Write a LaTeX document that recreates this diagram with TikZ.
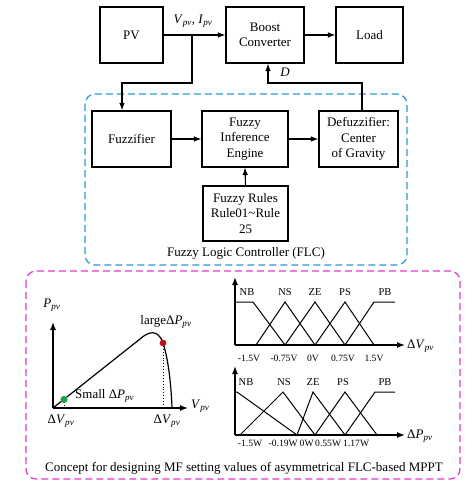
\documentclass[tikz,border=0pt]{standalone}
\usepackage{fontspec}
\setmainfont{Liberation Serif}
\usetikzlibrary{arrows.meta}
\definecolor{flcblue}{RGB}{40,155,210}
\definecolor{mfmag}{RGB}{222,60,205}
\definecolor{dotgreen}{RGB}{30,160,70}
\definecolor{dotred}{RGB}{185,20,35}
\begin{document}
\begin{tikzpicture}[x=1pt,y=-1pt,
  blk/.style={draw,line width=1.1pt,rectangle,align=center,inner sep=1pt,font=\fontsize{13}{15.5}\selectfont},
  arr/.style={line width=1.1pt,-{Latex[length=7.5pt,width=5.5pt]}},
  axis/.style={line width=1.4pt,-{Latex[length=8pt,width=6pt]}},
  mf/.style={line width=1pt},
  lbl/.style={inner sep=0pt,font=\fontsize{13}{15}\selectfont},
  small/.style={inner sep=0pt,font=\fontsize{10.5}{12}\selectfont},
  tick/.style={inner sep=0pt,font=\fontsize{9.6}{11}\selectfont},
  dashbox/.style={line width=1.2pt,dash pattern=on 7pt off 4pt,rounded corners=10pt}]
\useasboundingbox (0,0) rectangle (474,489);
% top row
\node[blk,minimum width=63pt,minimum height=56pt] (pv) at (131.5,35) {PV};
\node[blk,minimum width=78pt,minimum height=56pt] (boost) at (265,35) {Boost\\Converter};
\node[blk,minimum width=67pt,minimum height=56pt] (load) at (369.5,35) {Load};
% FLC
\draw[dashbox,flcblue] (85,94) rectangle (407,265);
\node[blk,minimum width=79pt,minimum height=56pt] (fz) at (131.5,139) {Fuzzifier};
\node[blk,minimum width=86pt,minimum height=56pt] (fie) at (245,139) {Fuzzy\\Inference\\Engine};
\node[blk,minimum width=79pt,minimum height=56pt] (dfz) at (358.5,139) {Defuzzifier:\\Center\\of Gravity};
\node[blk,minimum width=85pt,minimum height=55pt] (rules) at (245.5,213.5) {Fuzzy Rules\\Rule01\textasciitilde Rule\\25};
\node[lbl] (flc) at (246,253) {Fuzzy Logic Controller (FLC)};
% connectors
\coordinate (br) at (192,35);
\coordinate (fzin) at (122,83);
\coordinate (dtop) at (362,83);
\coordinate (bin) at (268,83);
\draw[arr] (pv.east) -- (boost.west);
\draw[arr] (boost.east) -- (load.west);
\draw[arr] (br) |- (fzin) -- (fzin |- fz.north);
\draw[arr] (dtop |- dfz.north) -- (dtop) -- (bin) -- (bin |- boost.south);
\draw[arr] (fz.east) -- (fie.west);
\draw[arr] (fie.east) -- (dfz.west);
\draw[arr] (rules.north) -- (fie.south);
\node[lbl] (vi) at (193,21) {\textit{V}\textsubscript{\textit{pv}}, \textit{I}\textsubscript{\textit{pv}}};
\node[lbl] (d) at (285,72) {\textit{D}};
% MF box
\draw[dashbox,mfmag] (26,271) rectangle (460,479);
\node[lbl] (cap) at (244,468) {Concept for designing MF setting values of asymmetrical FLC-based MPPT};
% P-V curve
\coordinate (o) at (53,408);
\coordinate (yt) at (53,322);
\coordinate (xt) at (188,408);
\draw[axis] (o) -- (yt);
\draw[axis] (o) -- (xt);
\draw[line width=1.2pt] (o) -- (140,339) .. controls (149,331) and (158,329) .. (163,343) .. controls (168,358) and (171,382) .. (172,408);
\coordinate (gd) at (64,399.5);
\coordinate (rd) at (163,343);
\draw[dotted,line width=0.9pt] (gd) -- (gd |- o);
\draw[dotted,line width=0.9pt] (rd) -- (rd |- o);
\fill[dotgreen] (gd) circle (3.6pt);
\fill[dotred] (rd) circle (3.4pt);
\node[lbl] (ppv) at (52,305) {\textit{P}\textsubscript{\textit{pv}}};
\node[lbl,anchor=west] (vpv) at (191,406) {\textit{V}\textsubscript{\textit{pv}}};
\node[lbl] (dv1) at (61,421) {Δ\textit{V}\textsubscript{\textit{pv}}};
\node[lbl] (dv2) at (167,421) {Δ\textit{V}\textsubscript{\textit{pv}}};
\node[lbl,anchor=west] (sm) at (75,396) {Small Δ\textit{P}\textsubscript{\textit{pv}}};
\node[lbl] (lg) at (166,322) {largeΔ\textit{P}\textsubscript{\textit{pv}}};
% top MF chart
\coordinate (o1) at (235,345);
\draw[axis] (o1) -- (235,277);
\draw[axis] (o1) -- (405,345);
\draw[mf] (235,302) -- (253,302) -- (285,345);
\draw[mf] (256,345) -- (285,302) -- (315,345);
\draw[mf] (285,345) -- (315,302) -- (345,345);
\draw[mf] (315,345) -- (345,302) -- (374,345);
\draw[mf] (345,345) -- (374,302) -- (395,302);
\node[small] (nb1) at (247,292) {NB};
\node[small] (ns1) at (285,292) {NS};
\node[small] (ze1) at (315,292) {ZE};
\node[small] (ps1) at (345,292) {PS};
\node[small] (pb1) at (385,292) {PB};
\node[tick] (t11) at (249,358) {-1.5V};
\node[tick] (t12) at (284,358) {-0.75V};
\node[tick] (t13) at (313,358) {0V};
\node[tick] (t14) at (343,358) {0.75V};
\node[tick] (t15) at (374,358) {1.5V};
\node[lbl,anchor=west] (dvx) at (407,346) {Δ\textit{V}\textsubscript{\textit{pv}}};
% bottom MF chart
\coordinate (o2) at (235,435);
\draw[axis] (o2) -- (235,366);
\draw[axis] (o2) -- (405,435);
\draw[mf] (235,392) -- (237,392) -- (297,435);
\draw[mf] (240,435) -- (283,392) -- (315,435);
\draw[mf] (297,435) -- (313,392) -- (345,435);
\draw[mf] (315,435) -- (345,392) -- (377,435);
\draw[mf] (345,435) -- (375,392) -- (395,392);
\node[small] (nb2) at (246,382) {NB};
\node[small] (ns2) at (284,382) {NS};
\node[small] (ze2) at (313,382) {ZE};
\node[small] (ps2) at (343,382) {PS};
\node[small] (pb2) at (385,382) {PB};
\node[tick,anchor=base] (t21) at (250,446) {-1.5W};
\node[tick,anchor=base east] (t22) at (298,446) {-0.19W};
\node[tick,anchor=base west] (t23) at (299.5,446) {0W};
\node[tick,anchor=base west] (t24) at (315,446) {0.55W};
\node[tick,anchor=base west] (t25) at (343,446) {1.17W};
\node[lbl,anchor=west] (dpx) at (407,436) {Δ\textit{P}\textsubscript{\textit{pv}}};
\end{tikzpicture}
\end{document}
